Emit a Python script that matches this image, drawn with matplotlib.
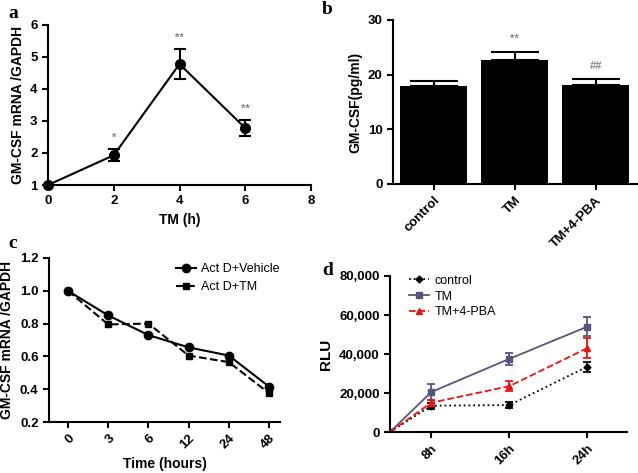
import matplotlib
matplotlib.use("Agg")
import matplotlib.pyplot as plt
import numpy as np

plt.rcParams['font.family'] = ['Liberation Sans', 'DejaVu Sans']
plt.rcParams['font.weight'] = 'bold'
plt.rcParams['axes.linewidth'] = 1.5

# panel a
a_x = [0, 2, 4, 6]
a_y = [1.0, 1.93, 4.78, 2.78]
a_err = [0.0, 0.18, 0.47, 0.25]
a_sig = ['', '*', '**', '**']

# panel b
b_cat = ['control', 'TM', 'TM+4-PBA']
b_val = [17.9, 22.6, 18.2]
b_err = [0.9, 1.5, 1.0]
b_sig = ['', '**', '##']

# panel c
c_cat = ['0', '3', '6', '12', '24', '48']
c_vehicle = [1.0, 0.85, 0.73, 0.655, 0.605, 0.415]
c_tm = [1.0, 0.795, 0.80, 0.605, 0.565, 0.375]

# panel d
d_cat = ['', '8h', '16h', '24h']
d_control = [0, 13500, 13800, 33500]
d_control_err = [0, 1500, 1500, 2500]
d_tm = [0, 20500, 37500, 54000]
d_tm_err = [0, 4000, 3000, 5000]
d_pba = [0, 15000, 23500, 43000]
d_pba_err = [0, 1500, 2500, 5000]

W, H = 638, 473
fig = plt.figure(figsize=(W / 100, H / 100), dpi=100)


def ax_px(l, t, r, b):
    return fig.add_axes([l / W, 1 - b / H, (r - l) / W, (b - t) / H])


def style(ax):
    ax.spines['top'].set_visible(False)
    ax.spines['right'].set_visible(False)
    ax.tick_params(direction='out', length=4, width=1.5, labelsize=9.5)
    for lab in ax.get_xticklabels() + ax.get_yticklabels():
        lab.set_fontweight('bold')


# ---- a
ax = ax_px(48, 25, 311, 185)
ax.errorbar(a_x, a_y, yerr=a_err, color='black', marker='o', ms=7, lw=1.5,
            capsize=4, elinewidth=1.5, capthick=1.5, clip_on=False, zorder=3)
for x, y, e, s in zip(a_x, a_y, a_err, a_sig):
    if s:
        ax.text(x, y + e + 0.2, s, ha='center', va='bottom', color='#888888', fontsize=8)
ax.set_xlim(0, 8)
ax.set_ylim(1, 6)
ax.set_xticks([0, 2, 4, 6, 8])
ax.set_yticks([1, 2, 3, 4, 5, 6])
ax.set_xlabel('TM (h)', fontsize=10, fontweight='bold')
ax.set_ylabel('GM-CSF mRNA /GAPDH', fontsize=10, fontweight='bold')
style(ax)

# ---- b
ax = ax_px(393, 20, 638, 184)
bx = np.arange(len(b_cat))
ax.bar(bx, b_val, width=0.83, color='black', zorder=2)
ax.errorbar(bx, b_val, yerr=[np.zeros(3), b_err], fmt='none', ecolor='black',
            capsize=17, elinewidth=1.5, capthick=1.5, zorder=1)
for x, y, e, s in zip(bx, b_val, b_err, b_sig):
    if s:
        ax.text(x, y + e + 1.5, s, ha='center', va='bottom', color='#888888', fontsize=8)
ax.set_xlim(-0.5, 2.52)
ax.set_ylim(0, 30)
ax.set_yticks([0, 10, 20, 30])
ax.set_xticks(bx)
ax.set_xticklabels(b_cat, rotation=45, ha='right', rotation_mode='anchor')
ax.set_ylabel('GM-CSF(pg/ml)', fontsize=10, fontweight='bold')
style(ax)

# ---- c
ax = ax_px(49, 258, 280, 422)
cx = np.arange(len(c_cat))
ax.plot(cx, c_vehicle, color='black', marker='o', ms=6, lw=1.5, label='Act D+Vehicle')
ax.plot(cx, c_tm, color='black', marker='s', ms=5, lw=1.5, ls='--', label='Act D+TM')
ax.set_xlim(-0.47, 5.27)
ax.set_ylim(0.2, 1.2)
ax.set_yticks([0.2, 0.4, 0.6, 0.8, 1.0, 1.2])
ax.set_yticklabels(['0.2', '0.4', '0.6', '0.8', '1.0', '1.2'])
ax.set_xticks(cx)
ax.set_xticklabels(c_cat, rotation=45, ha='right', rotation_mode='anchor')
ax.set_xlabel('Time (hours)', fontsize=10, fontweight='bold')
ax.set_ylabel('GM-CSF mRNA /GAPDH', fontsize=10, fontweight='bold')
leg = ax.legend(loc='upper left', frameon=False, fontsize=9, handlelength=1.6,
                handletextpad=0.4, borderaxespad=0, bbox_to_anchor=(0.53, 1.0))
for t in leg.get_texts():
    t.set_fontweight('normal')
style(ax)

# ---- d
ax = ax_px(390, 276, 627, 432)
dx = np.arange(len(d_cat)) + np.array([0.47, 0, 0, 0])
series = [
    (d_control, d_control_err, 'black', ':', 'D', 3.5, 'control'),
    (d_tm, d_tm_err, '#555580', '-', 's', 5, 'TM'),
    (d_pba, d_pba_err, '#ee1111', '--', '^', 4, 'TM+4-PBA'),
]
handles = []
for vals, errs, col, ls, mk, ms, lab in series:
    cont = ax.errorbar(dx, vals, yerr=errs, color=col, ls=ls, marker=mk, ms=ms,
                       lw=1.3, capsize=3, elinewidth=1.3, capthick=1.3, label=lab)
    handles.append(cont.lines[0])
ax.set_xlim(0.47, 3.51)
ax.set_ylim(0, 80000)
ax.set_yticks([0, 20000, 40000, 60000, 80000])
ax.set_yticklabels(['0', '20,000', '40,000', '60,000', '80,000'])
ax.set_xticks(dx[1:])
ax.set_xticklabels(d_cat[1:], rotation=45, ha='right', rotation_mode='anchor')
ax.set_ylabel('RLU', fontsize=11, fontweight='bold')
leg = ax.legend(handles, [s[-1] for s in series], loc='upper left', frameon=False,
                fontsize=9, handlelength=1.6, handletextpad=0.4, labelspacing=0.3,
                borderaxespad=0, bbox_to_anchor=(0.06, 1.04))
for t in leg.get_texts():
    t.set_fontweight('normal')
style(ax)

# panel letters
for s, x, y in [('a', 8, 14), ('b', 322, 10), ('c', 8, 243), ('d', 322, 270)]:
    fig.text(x / W, 1 - y / H, s, fontsize=14, fontweight='bold',
             family=['Liberation Serif', 'DejaVu Serif'], va='center')

fig.savefig('out.png', dpi=100)
